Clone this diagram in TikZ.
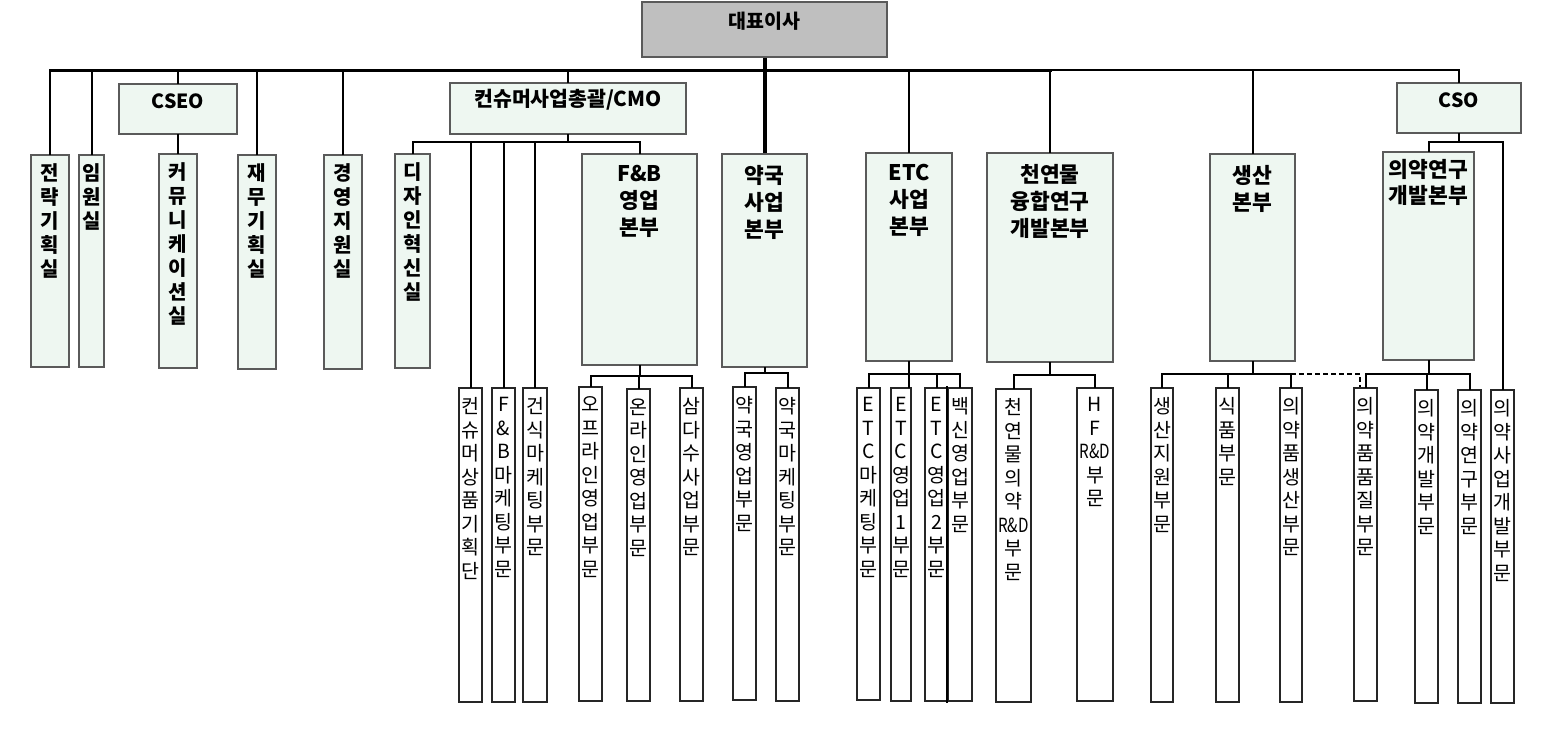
\documentclass[tikz,border=0pt]{standalone}
\usepackage{fontspec}
\usepackage{graphicx}
\setmainfont{Noto Sans CJK KR}
\usetikzlibrary{fit}
\definecolor{mint}{HTML}{EEF7F1}
\definecolor{bord}{HTML}{5A5A5A}
\definecolor{ceogray}{HTML}{BFBFBF}
\tikzset{
  ubox/.style={draw=bord, line width=2.6pt, fill=mint, inner sep=0pt},
  ceobox/.style={draw=bord, line width=1.2pt, fill=ceogray, inner sep=0pt},
  lbox/.style={draw=black!85, line width=1.2pt, fill=white, inner sep=0pt},
  conn/.style={draw=black, line width=2pt, line cap=rect},
  busline/.style={draw=black, line width=3pt, line cap=rect},
  thickline/.style={draw=black, line width=4pt},
  dashline/.style={draw=black, line width=2pt, dash pattern=on 5pt off 3pt},
  vtxt/.style={font=\bfseries\fontsize{20}{24}\selectfont, align=center, anchor=north, inner sep=0pt},
  htxt/.style={font=\bfseries\fontsize{21.5}{27}\selectfont, align=center, anchor=north, inner sep=0pt},
  ltxt/.style={font=\fontsize{19.5}{23.5}\selectfont, align=center, anchor=north, inner sep=0pt},
  ttxt/.style={font=\bfseries\fontsize{19.5}{23}\selectfont},
}
\begin{document}
\begin{tikzpicture}[x=1pt,y=-1pt]
\useasboundingbox (0,0) rectangle (1555,734);
% ---------- upper boxes ----------
\node[ceobox, fit={(642,2) (887,57)}, ttxt] (ceo) {대표이사};
\node[ubox, fit={(31,155) (69,367)}] (strat) {};
\node[ubox, fit={(79,155) (104,367)}] (exec) {};
\node[ubox, fit={(119,84) (237,134)}, ttxt] (cseo) {CSEO};
\node[ubox, fit={(159,154) (197,368)}] (comm) {};
\node[ubox, fit={(238,155) (276,369)}] (fin) {};
\node[ubox, fit={(324,155) (362,369)}] (mgmt) {};
\node[ubox, fit={(395,154) (430,368)}] (design) {};
\node[ubox, fit={(450,83) (686,134)}, ttxt, font=\bfseries\fontsize{20.5}{23}\selectfont] (cmo) {컨슈머사업총괄/CMO};
\node[ubox, fit={(582,154) (697,365)}] (fnb) {};
\node[ubox, fit={(722,154) (807,367)}] (pharm) {};
\node[ubox, fit={(866,153) (952,361)}] (etc) {};
\node[ubox, fit={(987,153) (1113,362)}] (nat) {};
\node[ubox, fit={(1210,154) (1295,361)}] (prod) {};
\node[ubox, fit={(1397,83) (1521,133)}, ttxt] (cso) {CSO};
\node[ubox, fit={(1383,152) (1474,360)}] (medrd) {};
% texts of upper boxes
\node[vtxt] (strat-t) at ([yshift=-10pt]strat.north) {전\\략\\기\\획\\실};
\node[vtxt] (exec-t) at ([yshift=-10pt]exec.north) {임\\원\\실};
\node[vtxt] (comm-t) at ([yshift=-10pt]comm.north) {커\\뮤\\니\\케\\이\\션\\실};
\node[vtxt] (fin-t) at ([yshift=-10pt]fin.north) {재\\무\\기\\획\\실};
\node[vtxt] (mgmt-t) at ([yshift=-10pt]mgmt.north) {경\\영\\지\\원\\실};
\node[vtxt] (design-t) at ([yshift=-10pt]design.north) {디\\자\\인\\혁\\신\\실};
\node[htxt] (fnb-t) at ([yshift=-12pt]fnb.north) {F\&B\\영업\\본부};
\node[htxt] (pharm-t) at ([yshift=-12pt]pharm.north) {약국\\사업\\본부};
\node[htxt] (etc-t) at ([yshift=-12pt]etc.north) {ETC\\사업\\본부};
\node[htxt] (nat-t) at ([yshift=-12pt]nat.north) {천연물\\융합연구\\개발본부};
\node[htxt] (prod-t) at ([yshift=-12pt]prod.north) {생산\\본부};
\node[htxt, font=\bfseries\fontsize{21.5}{26}\selectfont] (medrd-t) at ([yshift=-8pt]medrd.north) {의약연구\\개발본부};
% ---------- lower boxes ----------
\node[lbox, fit={(459,388) (482,702)}] (b1) {};
\node[lbox, fit={(492,388) (515,702)}] (b2) {};
\node[lbox, fit={(523,388) (547,702)}] (b3) {};
\node[lbox, fit={(579,387) (602,701)}] (b4) {};
\node[lbox, fit={(627,389) (650,701)}] (b5) {};
\node[lbox, fit={(680,388) (703,701)}] (b6) {};
\node[lbox, fit={(733,387) (756,700)}] (b7) {};
\node[lbox, fit={(776,388) (799,701)}] (b8) {};
\node[lbox, fit={(857,388) (880,700)}] (b9) {};
\node[lbox, fit={(891,388) (911,701)}] (b10) {};
\node[lbox, fit={(925,388) (948,701)}] (b11) {};
\node[lbox, fit={(948,388) (972,701)}] (b12) {};
\node[lbox, fit={(996,389) (1031,702)}] (b13) {};
\node[lbox, fit={(1077,388) (1113,701)}] (b14) {};
\node[lbox, fit={(1151,388) (1173,702)}] (b15) {};
\node[lbox, fit={(1216,388) (1239,702)}] (b16) {};
\node[lbox, fit={(1280,388) (1302,702)}] (b17) {};
\node[lbox, fit={(1354,388) (1377,701)}] (b18) {};
\node[lbox, fit={(1415,390) (1438,703)}] (b19) {};
\node[lbox, fit={(1458,390) (1481,703)}] (b20) {};
\node[lbox, fit={(1491,390) (1514,703)}] (b21) {};
\node[ltxt] (b1-t) at ([yshift=-10pt]b1.north) {컨\\슈\\머\\상\\품\\기\\획\\단};
\node[ltxt] (b2-t) at ([yshift=-10pt]b2.north) {F\\\&\\B\\마\\케\\팅\\부\\문};
\node[ltxt] (b3-t) at ([yshift=-10pt]b3.north) {건\\식\\마\\케\\팅\\부\\문};
\node[ltxt] (b4-t) at ([yshift=-10pt]b4.north) {오\\프\\라\\인\\영\\업\\부\\문};
\node[ltxt] (b5-t) at ([yshift=-10pt]b5.north) {온\\라\\인\\영\\업\\부\\문};
\node[ltxt] (b6-t) at ([yshift=-10pt]b6.north) {삼\\다\\수\\사\\업\\부\\문};
\node[ltxt] (b7-t) at ([yshift=-10pt]b7.north) {약\\국\\영\\업\\부\\문};
\node[ltxt] (b8-t) at ([yshift=-10pt]b8.north) {약\\국\\마\\케\\팅\\부\\문};
\node[ltxt] (b9-t) at ([yshift=-10pt]b9.north) {E\\T\\C\\마\\케\\팅\\부\\문};
\node[ltxt] (b10-t) at ([yshift=-10pt]b10.north) {E\\T\\C\\영\\업\\1\\부\\문};
\node[ltxt] (b11-t) at ([yshift=-10pt]b11.north) {E\\T\\C\\영\\업\\2\\부\\문};
\node[ltxt] (b12-t) at ([yshift=-10pt]b12.north) {백\\신\\영\\업\\부\\문};
\node[ltxt] (b13-t) at ([yshift=-10pt]b13.north) {천\\연\\물\\의\\약\\\scalebox{0.78}[1]{R\&D}\\부\\문};
\node[ltxt] (b14-t) at ([yshift=-10pt]b14.north) {H\\F\\\scalebox{0.78}[1]{R\&D}\\부\\문};
\node[ltxt] (b15-t) at ([yshift=-10pt]b15.north) {생\\산\\지\\원\\부\\문};
\node[ltxt] (b16-t) at ([yshift=-10pt]b16.north) {식\\품\\부\\문};
\node[ltxt] (b17-t) at ([yshift=-10pt]b17.north) {의\\약\\품\\생\\산\\부\\문};
\node[ltxt] (b18-t) at ([yshift=-10pt]b18.north) {의\\약\\품\\품\\질\\부\\문};
\node[ltxt] (b19-t) at ([yshift=-10pt]b19.north) {의\\약\\개\\발\\부\\문};
\node[ltxt] (b20-t) at ([yshift=-10pt]b20.north) {의\\약\\연\\구\\부\\문};
\node[ltxt] (b21-t) at ([yshift=-10pt]b21.north) {의\\약\\사\\업\\개\\발\\부\\문};
% ---------- connector levels ----------
\coordinate (busY) at (0,70);
\coordinate (cmoY) at (0,142);
\coordinate (csoY) at (0,142);
\coordinate (fnbY) at (0,376);
\coordinate (phY) at (0,373);
\coordinate (etcY) at (0,374);
\coordinate (natY) at (0,375);
\coordinate (prodY) at (0,374);
\coordinate (dashEnd) at (1360,374);
% main bus
\draw[busline] (strat.north |- busY) -- (nat.north |- busY);
\draw[conn] (nat.north |- busY) -- (cso.north |- busY);
\foreach \n in {strat,exec,cseo,fin,mgmt,cmo,etc,nat,prod,cso}
  \draw[conn] (\n.north) -- (\n.north |- busY);
\draw[thickline] (ceo.south) -- (pharm.north);
\draw[conn] (cseo.south) -- (comm.north);
% CMO branch
\draw[conn] (cmo.south) -- (cmo.south |- cmoY);
\draw[conn] (design.north) |- (fnb.north |- cmoY) -- (fnb.north);
\foreach \n in {b1,b2,b3}
  \draw[conn] (\n.north) -- (\n.north |- cmoY);
% F&B
\draw[conn] (fnb.south) -- (fnb.south |- fnbY);
\draw[conn] (b4.north) |- (b6.north |- fnbY) -- (b6.north);
\draw[conn] (b5.north) -- (b5.north |- fnbY);
% pharmacy
\draw[conn] (pharm.south) -- (pharm.south |- phY);
\draw[conn] (b7.north) |- (b8.north |- phY) -- (b8.north);
% ETC
\draw[conn] (etc.south) -- (etc.south |- b10.north);
\draw[conn] (b9.north) |- (b12.north |- etcY) -- (b12.north);
\draw[conn] (b11.north) -- (b11.north |- etcY);
\draw[conn] (b12.north west) -- (b12.south west);
% natural
\draw[conn] (nat.south) -- (nat.south |- natY);
\draw[conn] (b13.north) |- (b14.north |- natY) -- (b14.north);
% production
\draw[conn] (prod.south) -- (prod.south |- prodY);
\draw[conn] (b15.north) |- (b17.north |- prodY) -- (b17.north);
\draw[conn] (b16.north) -- (b16.north |- prodY);
\draw[dashline] (b17.north |- prodY) -- (dashEnd) -- (dashEnd |- b18.north);
% medical R&D
\draw[conn] (medrd.south) -- (medrd.south |- prodY);
\draw[conn] (b18.north) |- (b20.north |- prodY) -- (b20.north);
\draw[conn] (b19.north) -- (b19.north |- prodY);
% CSO
\draw[conn] (cso.south) -- (cso.south |- csoY);
\draw[conn] (medrd.north) |- (b21.north |- csoY) -- (b21.north);
\end{tikzpicture}
\end{document}
